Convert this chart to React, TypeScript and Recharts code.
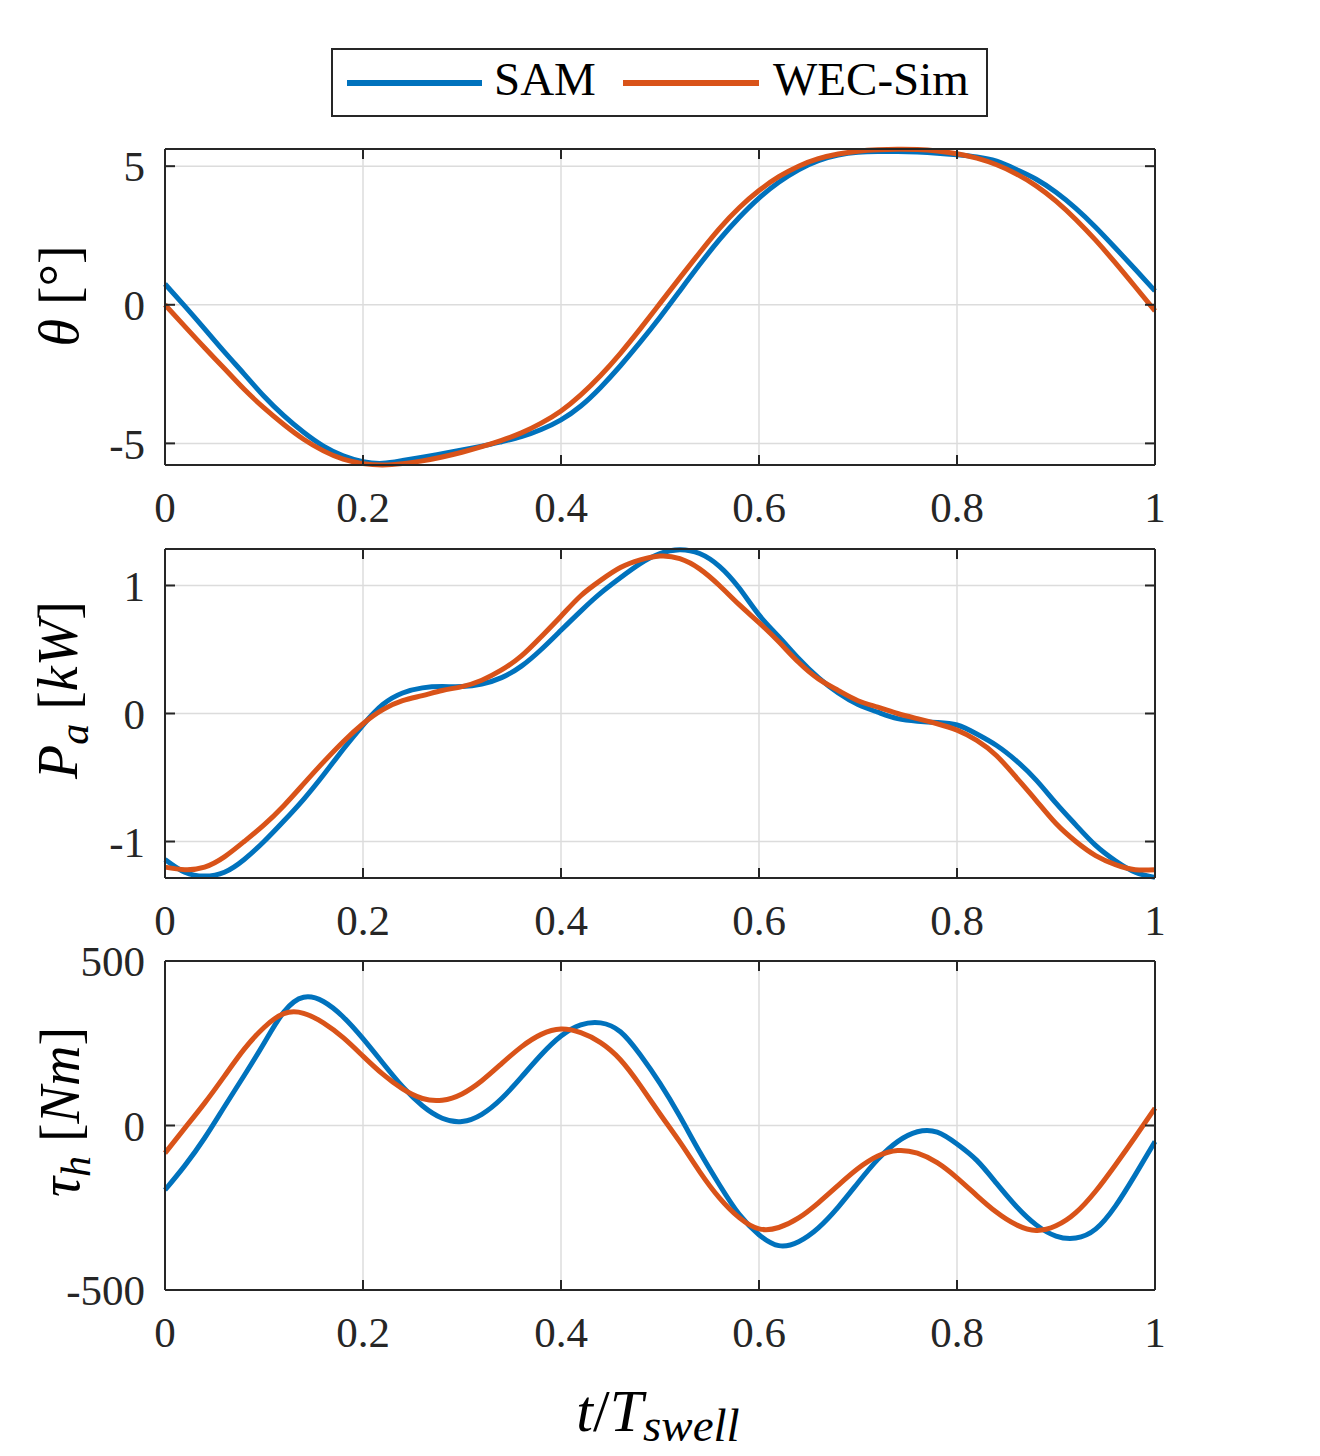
import React from 'react';
import { LineChart, Line, XAxis, YAxis, CartesianGrid } from 'recharts';

// ---------- data ----------
const T = [
  0, 0.02, 0.04, 0.06, 0.08, 0.1, 0.12, 0.14, 0.16, 0.18,
  0.2, 0.22, 0.24, 0.26, 0.28, 0.3, 0.32, 0.34, 0.36, 0.38,
  0.4, 0.42, 0.44, 0.46, 0.48, 0.5, 0.52, 0.54, 0.56, 0.58,
  0.6, 0.62, 0.64, 0.66, 0.68, 0.7, 0.72, 0.74, 0.76, 0.78,
  0.8, 0.82, 0.84, 0.86, 0.88, 0.9, 0.92, 0.94, 0.96, 0.98, 1,
];

const THETA_SAM = [
  0.75, -0.05, -0.87, -1.7, -2.5, -3.3, -4.0, -4.6, -5.1, -5.45,
  -5.66, -5.72, -5.62, -5.5, -5.37, -5.24, -5.1, -4.94, -4.76, -4.5,
  -4.15, -3.65, -2.98, -2.2, -1.35, -0.45, 0.5, 1.45, 2.35, 3.15,
  3.85, 4.42, 4.87, 5.2, 5.4, 5.5, 5.53, 5.53, 5.51, 5.47,
  5.41, 5.33, 5.18, 4.88, 4.53, 4.06, 3.48, 2.8, 2.05, 1.28, 0.5,
];
const THETA_WEC = [
  0.0, -0.78, -1.55, -2.3, -3.05, -3.72, -4.32, -4.85, -5.27, -5.57,
  -5.73, -5.78, -5.73, -5.63, -5.49, -5.32, -5.12, -4.89, -4.62, -4.27,
  -3.83, -3.25, -2.55, -1.75, -0.87, 0.05, 0.97, 1.88, 2.75, 3.5,
  4.12, 4.62, 5.0, 5.27, 5.44, 5.54, 5.59, 5.61, 5.6, 5.55,
  5.45, 5.29, 5.05, 4.72, 4.29, 3.74, 3.08, 2.33, 1.51, 0.65, -0.22,
];

const PA_SAM = [
  -1.14, -1.24, -1.27, -1.24, -1.14, -1.0, -0.84, -0.67, -0.48, -0.28,
  -0.09, 0.07, 0.16, 0.2, 0.21, 0.21, 0.23, 0.28, 0.37, 0.5,
  0.65, 0.8, 0.94, 1.06, 1.17, 1.25, 1.28, 1.25, 1.15, 0.98,
  0.77, 0.6, 0.43, 0.28, 0.16, 0.07, 0.01, -0.04, -0.06, -0.07,
  -0.09, -0.16, -0.25, -0.37, -0.52, -0.7, -0.87, -1.03, -1.15, -1.24, -1.28,
];
const PA_WEC = [
  -1.2, -1.22, -1.2, -1.12, -1.0, -0.87, -0.72, -0.55, -0.38, -0.22,
  -0.08, 0.03, 0.1, 0.14, 0.18, 0.21, 0.26, 0.34, 0.45, 0.6,
  0.76, 0.92, 1.04, 1.14, 1.2, 1.23, 1.21, 1.13, 1.0, 0.85,
  0.71, 0.56, 0.4, 0.27, 0.18, 0.1, 0.05, 0.0, -0.04, -0.08,
  -0.13, -0.21, -0.33, -0.5, -0.68, -0.86, -1.0, -1.11, -1.18, -1.22, -1.22,
];

const TAU_SAM = [
  -196, -122, -38, 57, 152, 250, 345, 390, 377, 330,
  264, 190, 118, 60, 22, 12, 34, 82, 147, 215,
  272, 306, 312, 285, 215, 128, 28, -80, -180, -270,
  -332, -365, -353, -311, -248, -174, -103, -49, -19, -20,
  -56, -106, -176, -246, -302, -336, -342, -315, -245, -150, -49,
];
const TAU_WEC = [
  -84, -8, 68, 150, 232, 298, 340, 341, 312, 267,
  211, 156, 111, 82, 77, 96, 136, 188, 239, 277,
  293, 282, 252, 200, 122, 35, -50, -140, -220, -280,
  -314, -310, -281, -235, -182, -131, -93, -76, -84, -113,
  -159, -213, -264, -302, -319, -305, -265, -200, -120, -35, 53,
];

const SERIES = [
  { key: 'sam', name: 'SAM', color: '#0072BD' },
  { key: 'wec', name: 'WEC-Sim', color: '#D95319' },
];

const X_TICKS = [0, 0.2, 0.4, 0.6, 0.8, 1];
const X_TICK_LABELS = ['0', '0.2', '0.4', '0.6', '0.8', '1'];
const THETA_TICKS = [-5, 0, 5];
const THETA_TICK_LABELS = ['-5', '0', '5'];
const PA_TICKS = [-1, 0, 1];
const PA_TICK_LABELS = ['-1', '0', '1'];
const TAU_TICKS = [-500, 0, 500];
const TAU_TICK_LABELS = ['-500', '0', '500'];

const THETA_DOMAIN = [-5.78, 5.62];
const PA_DOMAIN = [-1.285, 1.285];
const TAU_DOMAIN = [-500, 500];

const build = (a: number[], b: number[]) => T.map((t, i) => ({ t, sam: a[i], wec: b[i] }));
const thetaData = build(THETA_SAM, THETA_WEC);
const paData = build(PA_SAM, PA_WEC);
const tauData = build(TAU_SAM, TAU_WEC);

// ---------- styles ----------
const FONT = "'Liberation Serif', 'DejaVu Serif', serif";
const AX = '#262626';
const GRID = '#dcdcdc';
const W = 1320;
const M_TOP = 30;
const XH = 70;

const fmtFrom = (ticks: number[], labels: string[]) => (v: number) => {
  const i = ticks.findIndex((x) => Math.abs(x - v) < 1e-9);
  return i >= 0 ? labels[i] : String(v);
};

const NoTick = () => <g />;

function Panel(props: {
  top: number;
  plotH: number;
  data: any[];
  domain: number[];
  yTicks: number[];
  yLabels: string[];
}) {
  const { top, plotH, data, domain, yTicks, yLabels } = props;
  const axisLine = { stroke: AX, strokeWidth: 2 };
  const tickLine = { stroke: AX, strokeWidth: 2 };
  return (
    <div style={{ position: 'absolute', left: 0, top: top - M_TOP }}>
      <LineChart
        width={W}
        height={M_TOP + plotH + XH}
        data={data}
        margin={{ top: M_TOP - 1, right: 164, bottom: 0, left: 0 }}
      >
        <CartesianGrid stroke={GRID} strokeWidth={1.5} />
        <XAxis
          dataKey="t"
          type="number"
          domain={[0, 1]}
          ticks={X_TICKS}
          interval={0}
          height={XH}
          tickSize={-10}
          tickMargin={36}
          axisLine={axisLine}
          tickLine={tickLine}
          tickFormatter={fmtFrom(X_TICKS, X_TICK_LABELS)}
          tick={{ fill: AX, fontSize: 43, fontFamily: FONT }}
        />
        <XAxis
          xAxisId="top"
          dataKey="t"
          orientation="top"
          type="number"
          domain={[0, 1]}
          ticks={X_TICKS}
          interval={0}
          allowDataOverflow
          height={1}
          tickSize={-10}
          axisLine={axisLine}
          tickLine={tickLine}
          tick={NoTick}
        />
        <YAxis
          type="number"
          domain={domain}
          ticks={yTicks}
          interval={0}
          width={165}
          tickSize={-10}
          tickMargin={30}
          axisLine={axisLine}
          tickLine={tickLine}
          tickFormatter={fmtFrom(yTicks, yLabels)}
          tick={{ fill: AX, fontSize: 43, fontFamily: FONT }}
        />
        <YAxis
          yAxisId="right"
          orientation="right"
          type="number"
          domain={domain}
          ticks={yTicks}
          interval={0}
          allowDataOverflow
          width={1}
          tickSize={-10}
          axisLine={axisLine}
          tickLine={tickLine}
          tick={NoTick}
        />
        {SERIES.map((s) => (
          <Line
            key={s.key}
            dataKey={s.key}
            name={s.name}
            type="natural"
            stroke={s.color}
            strokeWidth={5}
            dot={false}
            activeDot={false}
            isAnimationActive={false}
          />
        ))}
      </LineChart>
    </div>
  );
}

function Overlay() {
  const legendX = 332;
  const legendY = 49;
  const items = [
    { x1: 347, x2: 482, tx: 494 },
    { x1: 623, x2: 759, tx: 773 },
  ];
  return (
    <svg
      width={W}
      height={1456}
      style={{ position: 'absolute', left: 0, top: 0, pointerEvents: 'none' }}
      fontFamily={FONT}
    >
      {/* legend */}
      <rect x={legendX} y={legendY} width={655} height={67} fill="#fff" stroke={AX} strokeWidth={2} />
      {SERIES.map((s, i) => (
        <g key={s.key}>
          <line x1={items[i].x1} x2={items[i].x2} y1={83} y2={83} stroke={s.color} strokeWidth={6} />
          <text x={items[i].tx} y={95} fontSize={47} fill="#000">
            {s.name}
          </text>
        </g>
      ))}

      {/* y labels */}
      <text transform="rotate(-90 78 296)" x={78} y={296} textAnchor="middle" fontSize={56} fill="#000">
        <tspan fontStyle="italic">θ</tspan>
        <tspan> [°]</tspan>
      </text>
      <text transform="rotate(-90 77 690)" x={77} y={690} textAnchor="middle" fontSize={56} fill="#000">
        <tspan fontStyle="italic">P</tspan>
        <tspan fontStyle="italic" fontSize={42} dy={11}>a</tspan>
        <tspan dy={-11}> [</tspan>
        <tspan fontStyle="italic">kW</tspan>
        <tspan>]</tspan>
      </text>
      <text transform="rotate(-90 79 1112)" x={79} y={1112} textAnchor="middle" fontSize={56} fill="#000">
        <tspan fontStyle="italic">τ</tspan>
        <tspan fontStyle="italic" fontSize={42} dy={11}>h</tspan>
        <tspan dy={-11}> [</tspan>
        <tspan fontStyle="italic">Nm</tspan>
        <tspan>]</tspan>
      </text>

      {/* x label */}
      <text x={658} y={1431} textAnchor="middle" fontSize={60} fill="#000">
        <tspan fontStyle="italic">t</tspan>
        <tspan>/</tspan>
        <tspan fontStyle="italic">T</tspan>
        <tspan fontStyle="italic" fontSize={47} dy={10}>swell</tspan>
      </text>
    </svg>
  );
}

export default function App() {
  return (
    <div style={{ position: 'absolute', left: 0, top: 0, width: W, height: 1456, background: '#fff' }}>
      <Panel top={149} plotH={316} data={thetaData} domain={THETA_DOMAIN} yTicks={THETA_TICKS} yLabels={THETA_TICK_LABELS} />
      <Panel top={549} plotH={329} data={paData} domain={PA_DOMAIN} yTicks={PA_TICKS} yLabels={PA_TICK_LABELS} />
      <Panel top={961} plotH={329} data={tauData} domain={TAU_DOMAIN} yTicks={TAU_TICKS} yLabels={TAU_TICK_LABELS} />
      <Overlay />
    </div>
  );
}
